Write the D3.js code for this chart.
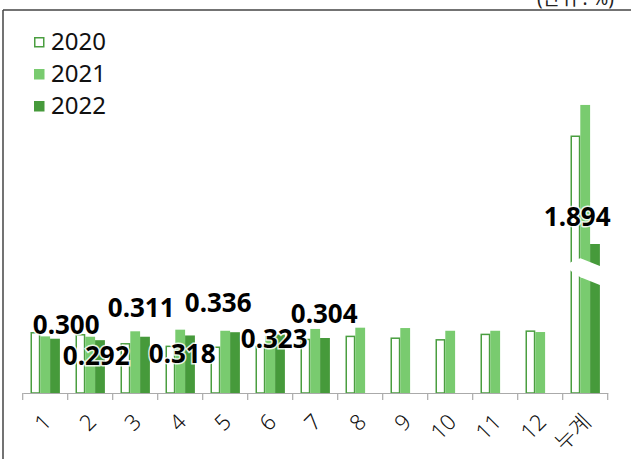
<!DOCTYPE html>
<html>
<head>
<meta charset="utf-8">
<script src="https://cdn.jsdelivr.net/npm/d3@7/dist/d3.min.js"></script>
<style>
  html, body { margin: 0; padding: 0; background: #fff; }
  svg { display: block; }
  text { font-family: "Noto Sans", "Noto Sans CJK KR", sans-serif; }
</style>
</head>
<body>
<svg id="chart" width="631" height="459"></svg>
<script>
// Monthly rates (%), with the cumulative total as the last category
const categories = ["1", "2", "3", "4", "5", "6", "7", "8", "9", "10", "11", "12", "누계"];
const years = ["2020", "2021", "2022"];
const values2020 = [0.337, 0.326, 0.276, 0.262, 0.257, 0.261, 0.300, 0.317, 0.307, 0.298, 0.328, 0.346, 2.494];
const values2021 = [0.313, 0.311, 0.341, 0.350, 0.344, 0.315, 0.354, 0.361, 0.359, 0.344, 0.344, 0.337, 2.663];
const values2022 = [0.300, 0.292, 0.311, 0.318, 0.336, 0.323, 0.304, null, null, null, null, null, 1.894];
const unitLabel = "(단위 : %)";

// Label nudges (dx from band centre, dy from bar top) for the 2022 value labels
const labelNudge = [[21, -5], [6, 25], [6, -20], [2, 28], [-7, -20], [4, 13], [9, -15],
  null, null, null, null, null, [-8, -18]];

const series = [
  { year: years[0], values: values2020 },
  { year: years[1], values: values2021 },
  { year: years[2], values: values2022 }
];
const colors = { "2020": "#fff", "2021": "#79cb6f", "2022": "#469a3b" };
const outline = "#4a9e40";

const svg = d3.select("#chart");

// Frame
svg.append("line").attr("x1", 3).attr("x2", 631).attr("y1", 10).attr("y2", 10)
  .attr("stroke", "#444").attr("stroke-width", 1.5);
svg.append("line").attr("x1", 3).attr("x2", 3).attr("y1", 10).attr("y2", 459)
  .attr("stroke", "#444").attr("stroke-width", 1.5);

svg.append("text").attr("x", 614).attr("y", 5).attr("text-anchor", "end")
  .attr("font-size", 19).attr("fill", "#222").text(unitLabel);

// Scales: band per category, piecewise y with a compressed break segment
const x = d3.scaleBand().domain(categories).range([22.7, 607.7]).padding(0);
const groupWidth = 29.4;
const xs = d3.scaleBand().domain(years).range([0, groupWidth]).padding(0);
const groupOffset = (x.bandwidth() - groupWidth) / 2;
const y = d3.scaleLinear().domain([0, 0.65, 1.8, 3.0]).range([393, 275.4, 261, 44]);

// Bars
const rows = [];
series.forEach(s => s.values.forEach((v, i) => {
  if (v != null) rows.push({ year: s.year, cat: categories[i], value: v, i });
}));

svg.append("g").selectAll("rect").data(rows).join("rect")
  .attr("x", d => x(d.cat) + groupOffset + xs(d.year) + (d.year === "2020" ? 0.75 : 0))
  .attr("y", d => y(d.value) + (d.year === "2020" ? 0.75 : 0))
  .attr("width", d => xs.bandwidth() - (d.year === "2020" ? 1.5 : 0))
  .attr("height", d => y(0) - y(d.value) - (d.year === "2020" ? 0.75 : 0))
  .attr("fill", d => colors[d.year])
  .attr("stroke", d => d.year === "2020" ? outline : "none")
  .attr("stroke-width", 1.5);

// Break mark across the cumulative bars
const gx = x("누계") + groupOffset;
const yb = (y(0.65) + y(1.8)) / 2;
svg.append("path")
  .attr("d", `M${gx - 5},${yb - 2} Q${gx + 3},${yb - 9} ${gx + 10},${yb - 10}
              L${gx + 35},${yb} L${gx + 35},${yb + 19} L${gx + 10},${yb + 9}
              Q${gx + 2},${yb + 5} ${gx - 5},${yb - 2} Z`)
  .attr("fill", "#fff");

// X axis
const axis = svg.append("g").attr("transform", `translate(0,${y(0)})`)
  .call(d3.axisBottom(x).tickSize(0).tickSizeOuter(0));
axis.select(".domain").attr("stroke", "#aaa").attr("stroke-width", 1.2);
axis.selectAll(".tick text")
  .attr("font-family", "'Noto Sans', 'Noto Sans CJK KR', sans-serif")
  .attr("font-size", 22).attr("font-weight", 300).attr("fill", "#111")
  .attr("text-anchor", "end").attr("y", null).attr("dy", "0.35em")
  .attr("transform", "translate(2,25) rotate(-45)");

// Boundary ticks between categories
const bounds = categories.map(c => x(c)).concat([x.range()[1]]);
svg.append("g").selectAll("line").data(bounds).join("line")
  .attr("x1", d => d).attr("x2", d => d)
  .attr("y1", y(0)).attr("y2", y(0) + 7)
  .attr("stroke", "#aaa").attr("stroke-width", 1.2);

// 2022 value labels
const labelRows = values2022.map((v, i) => ({ v, i })).filter(d => d.v != null);
svg.append("g").selectAll("text").data(labelRows).join("text")
  .attr("x", d => x(categories[d.i]) + x.bandwidth() / 2 + labelNudge[d.i][0])
  .attr("y", d => y(d.v) + labelNudge[d.i][1])
  .attr("text-anchor", "middle")
  .attr("font-size", 26).attr("font-weight", 700).attr("fill", "#000")
  .attr("stroke", "#fff").attr("stroke-width", 3).attr("stroke-opacity", 0.85)
  .attr("paint-order", "stroke")
  .text(d => d3.format(".3f")(d.v));

// Legend
const legend = svg.append("g").selectAll("g").data(years).join("g")
  .attr("transform", (d, i) => `translate(34,${37 + i * 32})`);
legend.append("rect")
  .attr("x", d => d === "2020" ? 0.75 : 0).attr("y", d => d === "2020" ? 0.75 : 0)
  .attr("width", d => d === "2020" ? 9 : 10.5).attr("height", d => d === "2020" ? 9 : 10.5)
  .attr("fill", d => colors[d])
  .attr("stroke", d => d === "2020" ? outline : "none").attr("stroke-width", 1.5);
legend.append("text").attr("x", 17).attr("y", 13).attr("font-size", 24)
  .attr("fill", "#111").text(d => d);
</script>
</body>
</html>
